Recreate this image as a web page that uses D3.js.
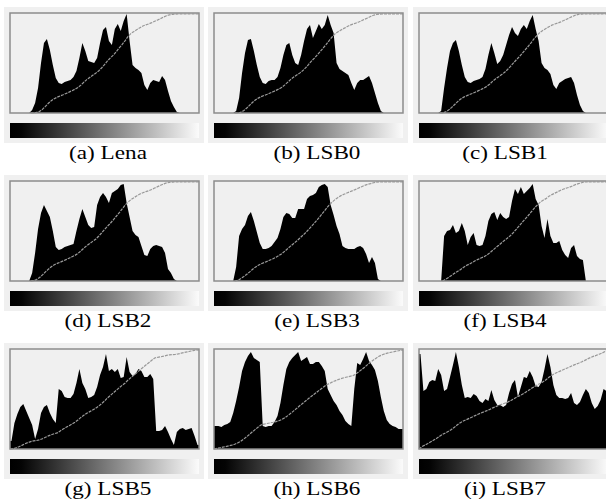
<!DOCTYPE html>
<html>
<head>
<meta charset="utf-8">
<script src="https://cdn.jsdelivr.net/npm/d3@7"></script>
<style>
  body { margin: 0; background: #fff; }
  svg { display: block; }
  .cap { font-family: "Liberation Serif", serif; font-size: 19px; fill: #000; }
</style>
</head>
<body>
<div id="chart"></div>
<script>
// histogram heights, 64 bins over 0..255, relative units
const lena = [0,0,0,0,0,0,0,3,10,25,50,70,74,63,48,35,30,29,31,32,33,36,42,55,70,62,52,51,50,55,70,83,86,72,68,84,89,82,92,99,72,48,45,43,40,28,23,30,33,32,31,37,33,22,12,6,1,0,0,0,0,0,0,0];
const lsb0 = [0,0,0,0,0,0,0,2,15,40,60,73,74,62,48,36,30,29,32,33,33,36,45,58,68,70,58,50,48,58,72,84,88,75,82,89,84,88,98,88,80,50,44,42,40,38,30,23,30,33,33,35,37,30,20,10,2,0,0,0,0,0,0,0];
const lsb1 = [0,0,0,0,0,0,0,2,25,45,62,70,73,62,48,36,31,30,32,33,34,36,44,58,70,60,49,52,58,68,78,86,80,77,84,88,84,92,98,84,72,50,45,43,39,28,24,30,32,34,35,36,30,18,8,2,0,0,0,0,0,0,0,0];
const lsb2 = [0,0,0,0,0,0,0,8,28,52,68,76,70,64,50,34,31,32,34,35,36,37,50,62,72,64,56,53,54,76,84,88,84,78,88,90,92,96,97,78,64,50,46,44,35,26,25,32,35,36,35,34,28,12,8,2,0,0,0,0,0,0,0,0];
const lsb3 = [0,0,0,0,0,0,0,14,45,52,56,65,69,60,49,38,32,32,33,35,39,43,52,64,68,67,63,63,72,72,72,82,85,86,88,94,96,97,94,76,66,55,47,35,33,32,32,32,34,35,33,27,18,24,18,2,0,0,0,0,0,0,0,0];
const lsb4 = [0,0,0,0,0,0,0,0,45,50,51,56,48,50,58,50,36,44,48,36,35,36,45,60,67,69,61,68,64,62,64,80,92,87,94,87,90,93,97,82,76,55,43,62,45,38,38,40,31,26,23,33,36,25,22,21,0,0,0,0,0,0,0,0];
const lsb5 = [8,26,35,42,45,38,31,24,10,20,36,42,44,36,30,26,60,58,52,51,51,55,66,80,66,60,51,52,54,62,74,82,95,78,80,77,80,71,72,92,77,73,75,80,78,72,72,75,70,18,18,19,23,17,10,4,17,20,21,19,20,21,13,4];
const lsb6 = [23,23,22,24,25,27,36,48,62,78,87,93,97,91,89,87,23,22,23,23,27,33,46,64,80,87,91,94,97,88,90,92,85,85,87,87,83,78,60,54,48,44,38,34,28,25,23,60,86,84,90,97,88,84,79,68,52,38,29,25,23,22,20,20];
const lsb7 = [95,58,60,67,69,68,80,74,58,60,72,84,97,82,64,51,52,51,55,53,48,46,50,48,59,49,44,44,42,44,56,65,69,52,62,72,71,78,72,63,62,67,80,95,82,64,54,51,51,50,51,56,46,44,47,54,60,56,46,40,43,49,60,58];

const series = [lena, lsb0, lsb1, lsb2, lsb3, lsb4, lsb5, lsb6, lsb7];
const captions = ["(a) Lena", "(b) LSB0", "(c) LSB1", "(d) LSB2", "(e) LSB3", "(f) LSB4", "(g) LSB5", "(h) LSB6", "(i) LSB7"];

const width = 606, height = 504;
const colX = [10, 214, 419];
const rowY = [13, 181, 349];
const capX = [108, 317, 505];
const boxW = 189, boxH = 100;

const svg = d3.select("#chart").append("svg")
    .attr("width", width)
    .attr("height", height);

const grad = svg.append("defs").append("linearGradient")
    .attr("id", "gray")
    .attr("x1", "0%").attr("x2", "100%");
grad.append("stop").attr("offset", "0%").attr("stop-color", "#000");
grad.append("stop").attr("offset", "6%").attr("stop-color", "#040404");
grad.append("stop").attr("offset", "100%").attr("stop-color", "#fbfbfb");

series.forEach((vals, k) => {
    const bx = colX[k % 3], by = rowY[Math.floor(k / 3)];
    const n = vals.length;
    const g = svg.append("g");

    g.append("rect")
        .attr("x", bx - 6).attr("y", by - 6)
        .attr("width", boxW + 11).attr("height", boxH + 36)
        .attr("fill", "#f0f0f0");

    const x = d3.scaleLinear().domain([0, n]).range([bx, bx + boxW]);
    const y = d3.scaleLinear().domain([0, 100]).range([by + boxH, by]);

    // bin centres, pinned to the box edges at both ends
    const pts = [[0, vals[0]], ...vals.map((v, i) => [i + 0.5, v]), [n, vals[n - 1]]];

    g.append("path")
        .datum(pts)
        .attr("fill", "#000")
        .attr("d", d3.area()
            .x(d => x(d[0]))
            .y0(y(0))
            .y1(d => y(d[1])));

    // cumulative curve
    const cum = [0, ...d3.cumsum(vals)];
    const yc = d3.scaleLinear().domain([0, cum[n]]).range([by + boxH, by + 1]);
    const start = vals.findIndex(v => v > 0);
    g.append("path")
        .datum(cum.map((c, i) => [i, c]).filter(d => d[0] >= start))
        .attr("fill", "none")
        .attr("stroke", "#999")
        .attr("stroke-width", 1.2)
        .attr("stroke-dasharray", "3,1")
        .attr("d", d3.line().x(d => x(d[0])).y(d => yc(d[1])));

    g.append("rect")
        .attr("x", bx).attr("y", by)
        .attr("width", boxW).attr("height", boxH)
        .attr("fill", "none")
        .attr("stroke", "#8c8c8c")
        .attr("stroke-width", 1.5);

    g.append("rect")
        .attr("x", bx).attr("y", by + boxH + 10)
        .attr("width", boxW).attr("height", 15)
        .attr("fill", "url(#gray)");

    svg.append("text")
        .attr("class", "cap")
        .attr("text-anchor", "middle")
        .attr("transform", `translate(${capX[k % 3]},${by + 146}) scale(1.22,1)`)
        .text(captions[k]);
});
</script>
</body>
</html>
